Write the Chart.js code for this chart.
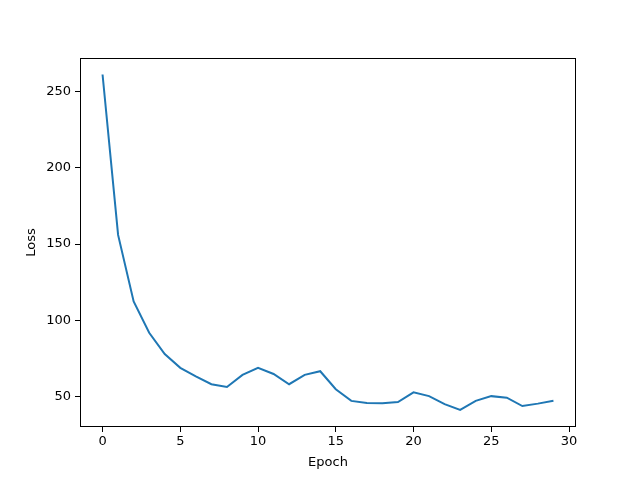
<!DOCTYPE html>
<html>
<head>
<meta charset="utf-8">
<script src="https://cdn.jsdelivr.net/npm/chart.js@4.4.1/dist/chart.umd.min.js"></script>
<style>
  html, body { margin: 0; padding: 0; background: #fff; }
  #wrap { width: 640px; height: 480px; }
</style>
</head>
<body>
<div id="wrap"><canvas id="chart" width="640" height="480"></canvas></div>
<script>
// loss per epoch
const epochs = Array.from({ length: 30 }, (_, i) => i)
const loss = [261, 156, 112.5, 92, 78, 69, 63.5, 58.3, 56.5, 64.4,
              69, 65, 58.3, 64.4, 66.8, 55, 47.4, 46, 45.8, 46.6,
              53, 50.5, 45.3, 41.5, 47.4, 50.5, 49.5, 44, 45.6, 47.5]
const xTicks = [0, 5, 10, 15, 20, 25, 30]
const yTicks = [50, 100, 150, 200, 250]

const font = { family: 'DejaVu Sans', size: 13 }

// matplotlib style box around the plot area
const frame = {
    id: 'frame',
    afterDraw(chart) {
        const { ctx, chartArea: a } = chart
        ctx.save()
        ctx.strokeStyle = '#000'
        ctx.lineWidth = 1
        ctx.strokeRect(a.left + 0.5, a.top + 0.5, a.right - a.left - 1, a.bottom - a.top - 1)
        ctx.restore()
    }
}

new Chart(document.getElementById('chart'), {
    type: 'line',
    data: {
        datasets: [{
            data: epochs.map((e, i) => ({ x: e, y: loss[i] })),
            borderColor: '#1f77b4',
            borderWidth: 2,
            pointRadius: 0,
            tension: 0,
            fill: false
        }]
    },
    options: {
        responsive: false,
        animation: false,
        layout: { padding: { left: 20, top: 58, right: 64, bottom: 6 } },
        plugins: { legend: { display: false }, tooltip: { enabled: false } },
        scales: {
            x: {
                type: 'linear',
                min: -1.45,
                max: 30.45,
                afterBuildTicks: s => { s.ticks = xTicks.map(v => ({ value: v })) },
                afterFit: s => { s.height = 47 },
                grid: { display: true, drawOnChartArea: false, tickLength: 5, color: '#000' },
                border: { display: false },
                ticks: { color: '#000', font: font, padding: 2, maxRotation: 0 },
                title: { display: true, text: 'Epoch', color: '#000', font: font, padding: { top: 0 } }
            },
            y: {
                min: 30.3,
                max: 271.8,
                afterBuildTicks: s => { s.ticks = yTicks.map(v => ({ value: v })) },
                afterFit: s => { s.width = 60 },
                grid: { display: true, drawOnChartArea: false, tickLength: 5, color: '#000' },
                border: { display: false },
                ticks: { color: '#000', font: font, padding: 4 },
                title: { display: true, text: 'Loss', color: '#000', font: font, padding: { bottom: 8 } }
            }
        }
    },
    plugins: [frame]
})
</script>
</body>
</html>
